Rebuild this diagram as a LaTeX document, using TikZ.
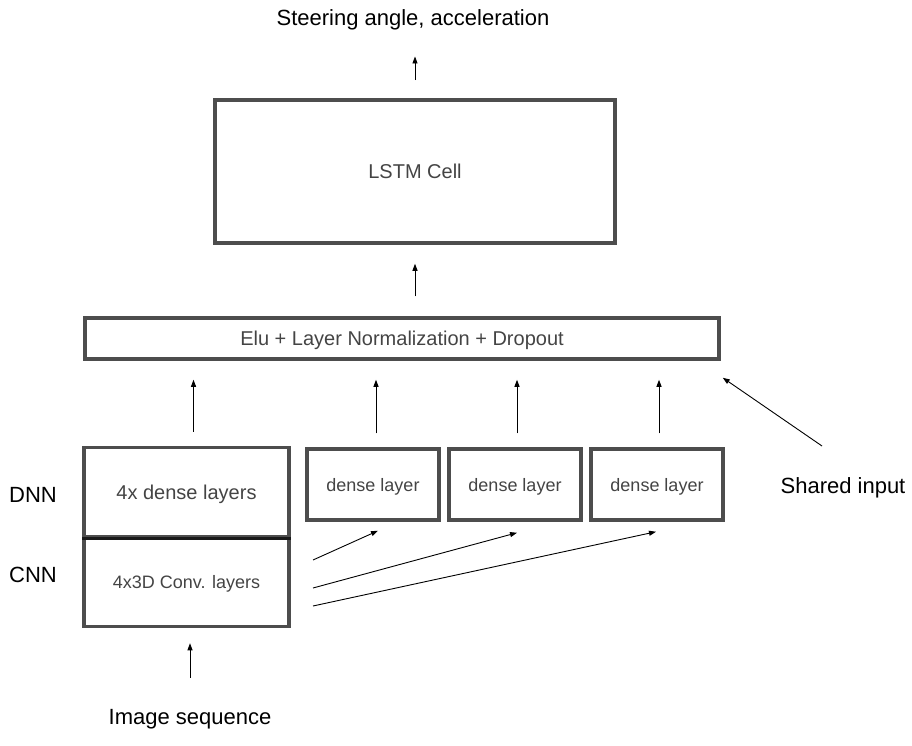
\documentclass[tikz,border=0pt]{standalone}
\usepackage{fontspec}
\setmainfont{Liberation Sans}
\usetikzlibrary{arrows.meta}
\definecolor{boxgray}{RGB}{77,77,77}
\definecolor{txtgray}{RGB}{68,68,68}
\tikzset{
  box/.style={draw=boxgray, line width=3.5pt, text=txtgray, inner sep=0pt, text depth=0pt},
  lbl/.style={font=\fontsize{22}{26}\selectfont, inner sep=0pt},
  arr/.style={-{Triangle[length=7pt,width=5pt]}, line width=0.9pt},
}
\begin{document}
\begin{tikzpicture}[x=1pt, y=-1pt]
        \useasboundingbox (0,0) rectangle (912,746);
        \node[lbl] (out) at (413,20) {Steering angle, acceleration};
        \node[box, minimum width=400pt, minimum height=143pt, font=\fontsize{20}{24}\selectfont] (lstm) at (415,171.5) {LSTM Cell};
        \node[box, minimum width=634pt, minimum height=41pt, font=\fontsize{20}{24}\selectfont] (elu) at (402,338.5) {Elu + Layer Normalization + Dropout};
        \node[box, minimum width=205pt, minimum height=89pt, font=\fontsize{20}{24}\selectfont] (dnn) at (186.5,492) {4x dense layers};
        \node[box, minimum width=205pt, minimum height=90pt, font=\fontsize{18}{22}\selectfont] (cnn) at (186.5,581.5) {4x3D Conv. layers};
        \draw[line width=3.5pt, black!90] (dnn.south west) -- (dnn.south east);
        \node[box, minimum width=132pt, minimum height=71pt, font=\fontsize{18}{22}\selectfont] (d1) at (373,484.5) {dense layer};
        \node[box, minimum width=132pt, minimum height=71pt, font=\fontsize{18}{22}\selectfont] (d2) at (515,484.5) {dense layer};
        \node[box, minimum width=132pt, minimum height=71pt, font=\fontsize{18}{22}\selectfont] (d3) at (657,484.5) {dense layer};
        \node[lbl] (dnnlbl) at (33,495) {DNN};
        \node[lbl] (cnnlbl) at (33,575) {CNN};
        \node[lbl] (shared) at (843,488) {Shared input};
        \node[lbl] (img) at (190,719) {Image sequence};
        % vertical flow
        \draw[arr, shorten <=18pt, shorten >=26pt] (lstm.north) -- (out.south -| lstm.north);
        \draw[arr, shorten <=20pt, shorten >=19pt] (elu.north -| lstm.south) -- (lstm.south);
        \draw[arr, shorten <=14pt, shorten >=19pt] ([xshift=7pt]dnn.north) -- ([xshift=7pt]dnn.north |- elu.south);
        \draw[arr, shorten <=14pt, shorten >=19pt] ([xshift=3pt]d1.north) -- ([xshift=3pt]d1.north |- elu.south);
        \draw[arr, shorten <=14pt, shorten >=19pt] ([xshift=2pt]d2.north) -- ([xshift=2pt]d2.north |- elu.south);
        \draw[arr, shorten <=14pt, shorten >=19pt] ([xshift=2pt]d3.north) -- ([xshift=2pt]d3.north |- elu.south);
        \draw[arr, shorten <=31pt, shorten >=15pt] (img.north) -- (img.north |- cnn.south);
        % shared input
        \coordinate (shin) at (822,446);
        \draw[arr] (shin) -- ([xshift=2pt,yshift=-17pt]elu.south east);
        % cnn features to dense layers
        \coordinate (c1) at (313,560);
        \coordinate (c2) at (313,588);
        \coordinate (c3) at (313,606);
        \draw[arr] (c1) -- ([xshift=5pt,yshift=-9pt]d1.south);
        \draw[arr] (c2) -- ([xshift=2pt,yshift=-11pt]d2.south);
        \draw[arr] (c3) -- ([xshift=-1pt,yshift=-10pt]d3.south);
\end{tikzpicture}
\end{document}
